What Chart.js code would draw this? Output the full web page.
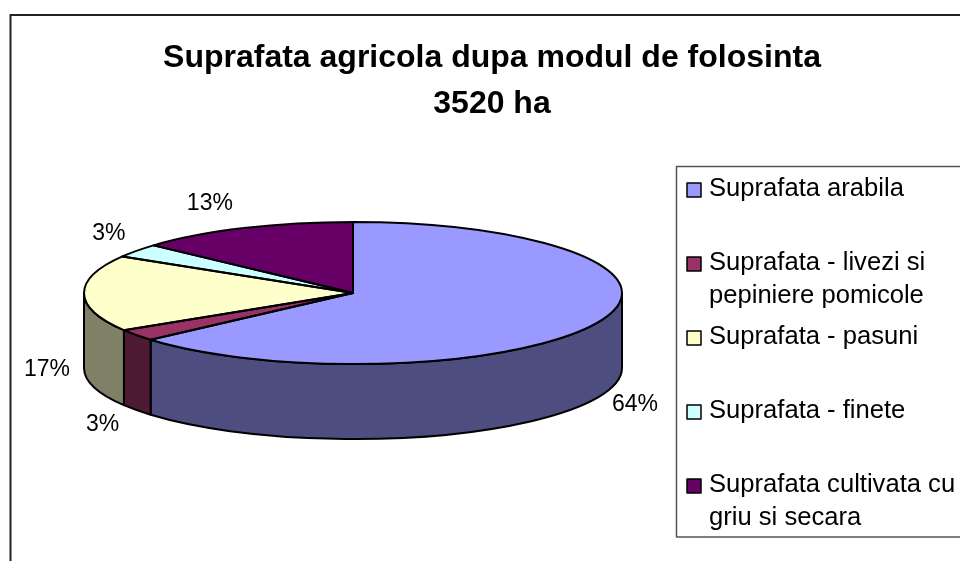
<!DOCTYPE html>
<html><head><meta charset="utf-8">
<style>html,body{margin:0;padding:0;background:#fff}canvas{display:block}</style>
<script src="https://cdn.jsdelivr.net/npm/chart.js@4"></script>
</head><body><canvas id="c" width="960" height="561"></canvas>
<script>
const titleLines = ["Suprafata agricola dupa modul de folosinta", "3520 ha"];
const categories = [["Suprafata arabila"], ["Suprafata - livezi si", "pepiniere pomicole"], ["Suprafata - pasuni"], ["Suprafata - finete"], ["Suprafata cultivata cu", "griu si secara"]];
const hectares = [2237, 94, 612, 109, 468];
const topColors = ["#9999FF", "#993366", "#FFFFCC", "#CCFFFF", "#660066"];
const wallColors = ["#4D4D80", "#4D1A33", "#808066", "#668080", "#330033"];
const labelNudge = [[37, 7], [-34, 15], [-37, 1], [-28, -17], [-34, -24]];

const FONT = '"Liberation Sans", Arial, sans-serif';
const CX = 353, CY = 293, RX = 269, RY = 71, DEPTH = 75;

function geom(chart) {
  const a = chart.getDatasetMeta(0).data[0];
  return { x: a.x, y: a.y, r: a.outerRadius };
}
function applyTransform(ctx, g) {
  ctx.translate(CX, CY);
  ctx.scale(RX / g.r, RY / g.r);
  ctx.translate(-g.x, -g.y);
}
const pie3d = {
  id: 'pie3d',
  beforeDraw(chart) {
    const { ctx, width, height } = chart;
    ctx.save();
    ctx.fillStyle = '#fff';
    ctx.fillRect(0, 0, width, height);
    ctx.strokeStyle = '#222';
    ctx.lineWidth = 2;
    ctx.beginPath();
    ctx.moveTo(10.5, height);
    ctx.lineTo(10.5, 15);
    ctx.lineTo(width, 15);
    ctx.stroke();
    ctx.restore();
  },
  beforeDatasetDraw(chart) {
    const { ctx } = chart;
    const arcs = chart.getDatasetMeta(0).data;
    ctx.save();
    ctx.lineWidth = 2;
    ctx.strokeStyle = '#000';
    ctx.lineJoin = 'round';
    arcs.forEach((arc, i) => {
      const from = Math.max(arc.startAngle, 0), to = Math.min(arc.endAngle, Math.PI);
      if (to <= from) return;
      ctx.beginPath();
      ctx.ellipse(CX, CY, RX, RY, 0, from, to);
      ctx.ellipse(CX, CY + DEPTH, RX, RY, 0, to, from, true);
      ctx.closePath();
      ctx.fillStyle = wallColors[i];
      ctx.fill();
      ctx.stroke();
    });
    ctx.restore();
    ctx.save();
    applyTransform(ctx, geom(chart));
  },
  afterDatasetDraw(chart) {
    const { ctx } = chart;
    ctx.restore();
    const arcs = chart.getDatasetMeta(0).data;
    ctx.save();
    ctx.lineWidth = 2;
    ctx.strokeStyle = '#000';
    ctx.lineJoin = 'round';
    arcs.forEach((arc) => {
      ctx.beginPath();
      ctx.moveTo(CX, CY);
      ctx.ellipse(CX, CY, RX, RY, 0, arc.startAngle, arc.endAngle);
      ctx.closePath();
      ctx.stroke();
    });
    // percent labels
    const total = hectares.reduce((a, b) => a + b, 0);
    ctx.font = '23px ' + FONT;
    ctx.fillStyle = '#000';
    ctx.textAlign = 'center';
    ctx.textBaseline = 'middle';
    arcs.forEach((arc, i) => {
      const m = (arc.startAngle + arc.endAngle) / 2;
      const sin = Math.sin(m);
      const ax = CX + RX * Math.cos(m);
      const ay = CY + RY * sin + (sin > 0 ? DEPTH : 0);
      ctx.fillText(Math.round(hectares[i] / total * 100) + '%', ax + labelNudge[i][0], ay + labelNudge[i][1]);
    });
    // legend
    ctx.strokeStyle = '#555';
    ctx.lineWidth = 1.5;
    ctx.beginPath();
    ctx.moveTo(chart.width, 166.5);
    ctx.lineTo(676.5, 166.5);
    ctx.lineTo(676.5, 537);
    ctx.lineTo(chart.width, 537);
    ctx.stroke();
    ctx.textAlign = 'left';
    ctx.font = '25.6px ' + FONT;
    categories.forEach((lines, i) => {
      const y = 187 + i * 74;
      ctx.fillStyle = topColors[i];
      ctx.strokeStyle = '#000';
      ctx.lineWidth = 1.5;
      ctx.fillRect(687, y - 4, 14, 14);
      ctx.strokeRect(687, y - 4, 14, 14);
      ctx.fillStyle = '#000';
      lines.forEach((t, j) => ctx.fillText(t, 709, y + 1.5 + j * 33));
    });
    ctx.restore();
  }
};

new Chart(document.getElementById('c'), {
  type: 'pie',
  data: {
    labels: categories,
    datasets: [{ data: hectares, backgroundColor: topColors, borderWidth: 0, clip: false }]
  },
  options: {
    responsive: false,
    animation: false,
    rotation: 0,
    layout: { padding: { left: 24, right: 0, top: 35, bottom: 0 } },
    plugins: {
      legend: { display: false },
      tooltip: { enabled: false },
      title: {
        display: true,
        text: titleLines,
        color: '#000',
        font: { family: FONT, size: 32, weight: 'bold', lineHeight: 1.44 },
        padding: 0
      }
    }
  },
  plugins: [pie3d]
});
</script></body></html>
